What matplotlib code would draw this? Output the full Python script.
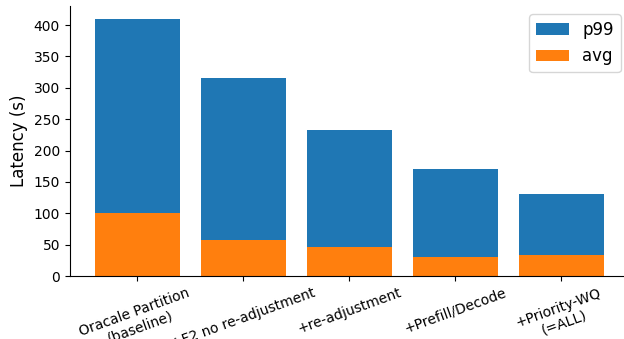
import matplotlib
matplotlib.use("Agg")
import matplotlib.pyplot as plt
import numpy as np

categories = ["Oracale Partition\n(baseline)", "+F2 no re-adjustment", "+re-adjustment",
              "+Prefill/Decode", "+Priority-WQ\n(=ALL)"]
p99 = [410, 315, 232, 170, 130]
avg = [101, 57, 46, 30, 33]

fig = plt.figure(figsize=(6.24, 3.39), dpi=100)
ax = fig.add_axes([69.7/624, 1 - 276/339, (629 - 69.7)/624, 270/339])
x = np.arange(len(categories))
ax.bar(x, p99, width=0.8, color="#1f77b4", label="p99")
ax.bar(x, avg, width=0.8, color="#ff7f0e", label="avg")
ax.set_xticks(x)
ax.set_xticklabels(categories, rotation=20, ha="center", fontsize=10)
ax.set_ylabel("Latency (s)", fontsize=12)
ax.tick_params(axis="y", labelsize=10)
ax.spines["top"].set_visible(False)
ax.spines["right"].set_visible(False)
ax.legend(fontsize=12, loc="upper right")
fig.savefig("out.png", dpi=100)
